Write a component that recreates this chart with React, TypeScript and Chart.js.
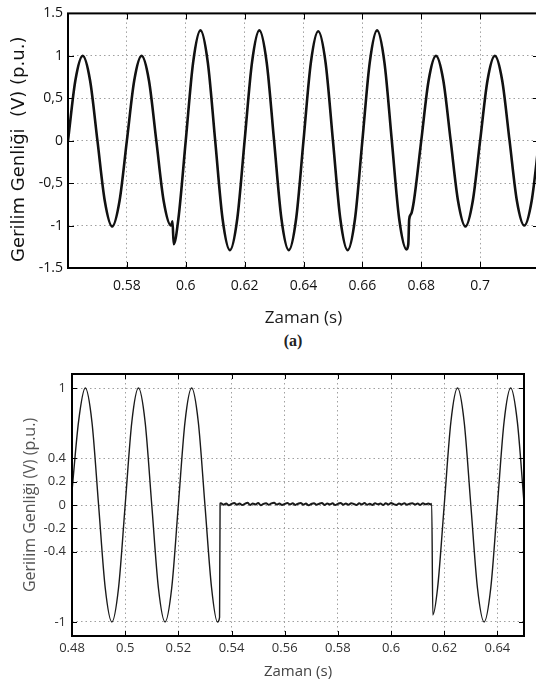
import React, { useEffect, useRef } from 'react';
import { Chart, registerables } from 'chart.js';

Chart.register(...registerables);

// ---------------- Chart (a) : voltage swell ----------------
const timeA = [
  0.56, 0.5625, 0.565, 0.5675, 0.57, 0.5725, 0.575, 0.5775,
  0.58, 0.5825, 0.585, 0.5875, 0.59, 0.5925, 0.595, 0.5955, 0.5959, 0.5975,
  0.6, 0.6025, 0.605, 0.6075, 0.61, 0.6125, 0.615, 0.6175,
  0.62, 0.6225, 0.625, 0.6275, 0.63, 0.6325, 0.635, 0.6375,
  0.64, 0.6425, 0.645, 0.6475, 0.65, 0.6525, 0.655, 0.6575,
  0.66, 0.6625, 0.665, 0.6675, 0.67, 0.6725, 0.675, 0.6756, 0.6759, 0.6766, 0.6775,
  0.68, 0.6825, 0.685, 0.6875, 0.69, 0.6925, 0.695, 0.6975,
  0.7, 0.7025, 0.705, 0.7075, 0.71, 0.7125, 0.715, 0.7175, 0.72,
];
const voltA = [
  0, 0.71, 1.0, 0.71, 0, -0.71, -1.01, -0.71,
  0, 0.71, 1.0, 0.71, 0, -0.71, -1.0, -0.95, -1.22, -0.92,
  0, 0.92, 1.3, 0.92, 0, -0.92, -1.29, -0.92,
  0, 0.92, 1.3, 0.92, 0, -0.92, -1.29, -0.92,
  0, 0.92, 1.29, 0.92, 0, -0.92, -1.29, -0.92,
  0, 0.92, 1.3, 0.92, 0, -0.92, -1.28, -1.22, -0.93, -0.86, -0.71,
  0, 0.71, 1.0, 0.71, 0, -0.71, -1.01, -0.71,
  0, 0.71, 1.0, 0.71, 0, -0.71, -1.0, -0.71, 0,
];
const xTicksA = [0.58, 0.6, 0.62, 0.64, 0.66, 0.68, 0.7];
const xLabelsA = ['0.58', '0.6', '0.62', '0.64', '0.66', '0.68', '0.7'];
const yTicksA = [-1.5, -1, -0.5, 0, 0.5, 1, 1.5];
const yLabelsA = ['-1.5', '-1', '-0,5', '0', '0,5', '1', '1.5'];

// ---------------- Chart (b) : voltage interruption ----------------
const timeB1 = [
  0.48, 0.4825, 0.485, 0.4875, 0.49, 0.4925, 0.495, 0.4975,
  0.5, 0.5025, 0.505, 0.5075, 0.51, 0.5125, 0.515, 0.5175,
  0.52, 0.5225, 0.525, 0.5275, 0.53, 0.5325, 0.5347, 0.5355, 0.5357,
];
const voltB1 = [
  0.12, 0.72, 1.0, 0.71, 0, -0.71, -1.0, -0.71,
  0, 0.71, 1.0, 0.71, 0, -0.71, -1.0, -0.71,
  0, 0.71, 1.0, 0.71, 0, -0.71, -1.0, -0.96, 0.01,
];
const timeB2 = [
  0.536, 0.537, 0.538, 0.539, 0.54, 0.541, 0.542, 0.543, 0.544, 0.545,
  0.546, 0.547, 0.548, 0.549, 0.55, 0.551, 0.552, 0.553, 0.554, 0.555,
  0.556, 0.557, 0.558, 0.559, 0.56, 0.561, 0.562, 0.563, 0.564, 0.565,
  0.566, 0.567, 0.568, 0.569, 0.57, 0.571, 0.572, 0.573, 0.574, 0.575,
  0.576, 0.577, 0.578, 0.579, 0.58, 0.581, 0.582, 0.583, 0.584, 0.585,
  0.586, 0.587, 0.588, 0.589, 0.59, 0.591, 0.592, 0.593, 0.594, 0.595,
  0.596, 0.597, 0.598, 0.599, 0.6, 0.601, 0.602, 0.603, 0.604, 0.605,
  0.606, 0.607, 0.608, 0.609, 0.61, 0.611, 0.612, 0.613, 0.614, 0.615,
];
const voltB2 = [
  0.016, 0.002, 0.012, -0.002, 0.010, 0.018, 0.003, 0.013, -0.001, 0.009,
  0.019, 0.001, 0.012, 0.005, 0.017, -0.002, 0.010, 0.015, 0.002, 0.014,
  0.020, 0.004, 0.012, 0.000, 0.009, 0.017, 0.005, 0.014, 0.001, 0.011,
  0.018, 0.003, 0.012, -0.002, 0.009, 0.016, 0.002, 0.011, 0.017, 0.001,
  0.012, 0.005, 0.014, 0.000, 0.010, 0.018, 0.003, 0.012, 0.002, 0.016,
  0.008, 0.000, 0.014, 0.005, 0.017, 0.002, 0.011, 0.001, 0.016, 0.006,
  0.012, 0.000, 0.014, 0.004, 0.017, 0.007, 0.001, 0.012, 0.005, 0.016,
  0.002, 0.011, 0.014, 0.004, 0.012, 0.001, 0.015, 0.006, 0.012, 0.005,
];
const timeB3 = [
  0.6153, 0.6157, 0.6175, 0.62, 0.6225, 0.625, 0.6275, 0.63, 0.6325,
  0.635, 0.6375, 0.64, 0.6425, 0.645, 0.6475, 0.65,
];
const voltB3 = [
  0.01, -0.94, -0.71, 0, 0.71, 1.0, 0.71, 0, -0.71,
  -1.0, -0.71, 0, 0.71, 1.0, 0.71, 0.02,
];
const xTicksB = [0.48, 0.5, 0.52, 0.54, 0.56, 0.58, 0.6, 0.62, 0.64];
const xLabelsB = ['0.48', '0.5', '0.52', '0.54', '0.56', '0.58', '0.6', '0.62', '0.64'];
const yTicksB = [-1, -0.4, -0.2, 0, 0.2, 0.4, 1];
const yLabelsB = ['-1', '-0.4', '-0.2', '0', '0.2', '0.4', '1'];

const zip = (xs: number[], ys: number[]) => xs.map((x, i) => ({ x, y: ys[i] }));

const framePlugin = {
  id: 'frame',
  afterDatasetsDraw(chart: any, _args: any, opts: any) {
    const { ctx, chartArea: a, scales } = chart;
    ctx.save();
    ctx.strokeStyle = opts.color;
    ctx.lineWidth = 1;
    const L = opts.tick;
    ctx.beginPath();
    for (const t of scales.x.ticks) {
      const px = Math.round(scales.x.getPixelForValue(t.value)) + 0.5;
      ctx.moveTo(px, a.bottom);
      ctx.lineTo(px, a.bottom - L);
      ctx.moveTo(px, a.top);
      ctx.lineTo(px, a.top + L);
    }
    for (const t of scales.y.ticks) {
      const py = Math.round(scales.y.getPixelForValue(t.value)) + 0.5;
      ctx.moveTo(a.left, py);
      ctx.lineTo(a.left + L, py);
      ctx.moveTo(a.right, py);
      ctx.lineTo(a.right - L, py);
    }
    ctx.stroke();
    ctx.lineWidth = opts.width;
    ctx.strokeRect(a.left, a.top, a.right - a.left, a.bottom - a.top);
    ctx.restore();
  },
};

type Cfg = {
  points: { x: number; y: number }[];
  lineColor: string;
  lineWidth: number;
  noisyFrom?: number; noisyTo?: number; noisyWidth?: number;
  xMin: number; xMax: number; yMin: number; yMax: number;
  xTicks: number[]; xLabels: string[]; yTicks: number[]; yLabels: string[];
  padTop: number; padRight: number;
  yWidth: number; xHeight: number;
  tickFont: number; tickColor: string;
  xTickPad: number; yTickPad: number;
  xTitle: string; xTitleFont: any; xTitleColor: string; xTitlePad: number;
  yTitle: string; yTitleFont: any; yTitleColor: string; yTitlePad: number;
  frameWidth: number; frameTick: number;
};

function WaveChart({ cfg, width, height }: { cfg: Cfg; width: number; height: number }) {
  const ref = useRef<HTMLCanvasElement | null>(null);
  useEffect(() => {
    if (!ref.current) return;
    const chart = new Chart(ref.current, {
      type: 'line',
      data: {
        datasets: [
          {
            data: cfg.points,
            borderColor: cfg.lineColor,
            borderWidth: cfg.lineWidth,
            pointRadius: 0,
            cubicInterpolationMode: 'monotone',
            fill: false,
            segment: {
              borderWidth: (c: any) =>
                cfg.noisyFrom !== undefined &&
                c.p0.parsed.x >= cfg.noisyFrom &&
                c.p1.parsed.x <= (cfg.noisyTo as number)
                  ? cfg.noisyWidth
                  : cfg.lineWidth,
            },
          },
        ],
      },
      options: {
        animation: false,
        responsive: false,
        devicePixelRatio: 1,
        layout: { padding: { top: cfg.padTop, right: cfg.padRight, bottom: 0, left: 0 } },
        plugins: {
          legend: { display: false },
          tooltip: { enabled: false },
          frame: { color: '#000', width: cfg.frameWidth, tick: cfg.frameTick },
        } as any,
        scales: {
          x: {
            type: 'linear',
            min: cfg.xMin,
            max: cfg.xMax,
            afterBuildTicks: (s: any) => {
              s.ticks = cfg.xTicks.map((v) => ({ value: v }));
            },
            afterFit: (s: any) => {
              s.height = cfg.xHeight;
            },
            ticks: {
              autoSkip: false,
              maxRotation: 0,
              padding: cfg.xTickPad,
              color: cfg.tickColor,
              font: { family: 'Open Sans', size: cfg.tickFont },
              callback: (_v: any, i: number) => cfg.xLabels[i],
            },
            grid: { color: '#a0a0a0', lineWidth: 1, drawTicks: false },
            border: { display: false, dash: [1.5, 3] },
            title: {
              display: true,
              text: cfg.xTitle,
              color: cfg.xTitleColor,
              font: cfg.xTitleFont,
              padding: { top: 0, bottom: cfg.xTitlePad },
            },
          },
          y: {
            type: 'linear',
            min: cfg.yMin,
            max: cfg.yMax,
            afterBuildTicks: (s: any) => {
              s.ticks = cfg.yTicks.map((v) => ({ value: v }));
            },
            afterFit: (s: any) => {
              s.width = cfg.yWidth;
            },
            ticks: {
              autoSkip: false,
              padding: cfg.yTickPad,
              color: cfg.tickColor,
              font: { family: 'Open Sans', size: cfg.tickFont },
              callback: (_v: any, i: number) => cfg.yLabels[i],
            },
            grid: { color: '#a0a0a0', lineWidth: 1, drawTicks: false },
            border: { display: false, dash: [1.5, 3] },
            title: {
              display: true,
              text: cfg.yTitle,
              color: cfg.yTitleColor,
              font: cfg.yTitleFont,
              padding: { top: cfg.yTitlePad, bottom: 0 },
            },
          },
        },
      },
      plugins: [framePlugin],
    } as any);
    return () => chart.destroy();
  }, [cfg]);
  return (
    <canvas
      ref={ref}
      width={width}
      height={height}
      style={{ width, height, display: 'block' }}
    />
  );
}

const cfgA: Cfg = {
  points: zip(timeA, voltA),
  lineColor: '#111',
  lineWidth: 2.6,
  xMin: 0.56, xMax: 0.72, yMin: -1.5, yMax: 1.5,
  xTicks: xTicksA, xLabels: xLabelsA, yTicks: yTicksA, yLabels: yLabelsA,
  padTop: 12, padRight: 21,
  yWidth: 68, xHeight: 62,
  tickFont: 14, tickColor: '#111',
  xTickPad: 9.6, yTickPad: 5,
  xTitle: 'Zaman (s)', xTitleFont: { family: 'Open Sans', size: 17 }, xTitleColor: '#1a1a1a', xTitlePad: 1.8,
  yTitle: 'Gerilim Genliği  (V) (p.u.)   ', yTitleFont: { family: 'DejaVu Sans', size: 18 }, yTitleColor: '#111', yTitlePad: 8.7,
  frameWidth: 2, frameTick: 6,
};

const pointsB = [...zip(timeB1, voltB1), ...zip(timeB2, voltB2), ...zip(timeB3, voltB3)];

const cfgB: Cfg = {
  points: pointsB,
  lineColor: '#1a1a1a',
  lineWidth: 1.4,
  noisyFrom: 0.5357, noisyTo: 0.6153, noisyWidth: 2,
  xMin: 0.48, xMax: 0.65, yMin: -1.12, yMax: 1.12,
  xTicks: xTicksB, xLabels: xLabelsB, yTicks: yTicksB, yLabels: yLabelsB,
  padTop: 14, padRight: 12,
  yWidth: 72, xHeight: 48,
  tickFont: 13, tickColor: '#333',
  xTickPad: 4.2, yTickPad: 6,
  xTitle: 'Zaman (s)', xTitleFont: { family: 'Open Sans', size: 15 }, xTitleColor: '#444', xTitlePad: 3.3,
  yTitle: 'Gerilim Genliği (V) (p.u.)', yTitleFont: { family: 'Open Sans', size: 16 }, yTitleColor: '#555', yTitlePad: 20.4,
  frameWidth: 2, frameTick: 5,
};

export default function App() {
  return (
    <div
      style={{
        position: 'fixed',
        left: 0,
        top: 0,
        width: 536,
        height: 684,
        overflow: 'hidden',
        background: '#fff',
      }}
    >
      <div style={{ position: 'absolute', left: 0, top: 0 }}>
        <WaveChart cfg={cfgA} width={560} height={330} />
      </div>
      <div
        style={{
          position: 'absolute',
          left: 0,
          width: 586,
          top: 331,
          textAlign: 'center',
          fontFamily: '"Liberation Serif", "DejaVu Serif", serif',
          fontSize: 16,
          fontWeight: 600,
          lineHeight: '20px',
          color: '#222',
        }}
      >
        (a)
      </div>
      <div style={{ position: 'absolute', left: 0, top: 360 }}>
        <WaveChart cfg={cfgB} width={536} height={324} />
      </div>
    </div>
  );
}
